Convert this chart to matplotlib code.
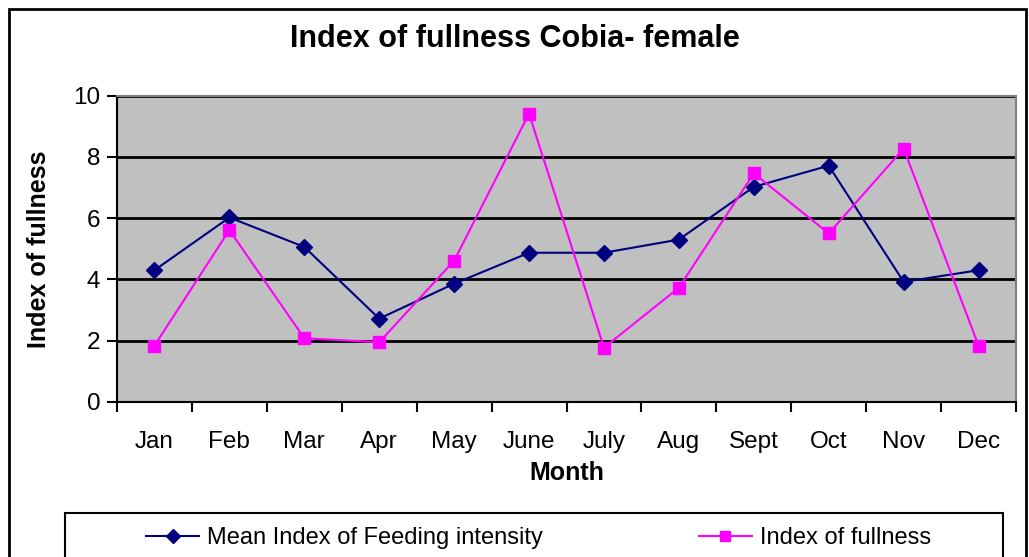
import matplotlib.pyplot as plt
from matplotlib.patches import Rectangle
from matplotlib.lines import Line2D

plt.rcParams['font.family'] = ['Liberation Sans', 'DejaVu Sans']

months = ["Jan", "Feb", "Mar", "Apr", "May", "June", "July", "Aug", "Sept", "Oct", "Nov", "Dec"]
feeding_intensity = [4.30, 6.02, 5.06, 2.72, 3.86, 4.87, 4.87, 5.30, 7.02, 7.71, 3.92, 4.30]
fullness = [1.84, 5.61, 2.08, 1.95, 4.61, 9.41, 1.77, 3.73, 7.46, 5.50, 8.27, 1.84]

fig = plt.figure(figsize=(10.29, 5.57), dpi=100)
ax = fig.add_axes([0.1137, 0.2783, 0.8737, 0.5502])

x = range(len(months))
ax.plot(x, feeding_intensity, color='#000080', marker='D', markersize=8, linewidth=1.5,
        label='Mean Index of Feeding intensity', zorder=3)
ax.plot(x, fullness, color='#FF00FF', marker='s', markersize=9, linewidth=1.5,
        label='Index of fullness', zorder=3)

ax.set_facecolor('#C0C0C0')
ax.set_xlim(-0.5, len(months) - 0.5)
ax.set_ylim(0, 10)
ax.set_yticks([0, 2, 4, 6, 8, 10])
ax.yaxis.grid(True, color='black', linewidth=2)
ax.set_axisbelow(True)

# category ticks sit between months, labels at the centres
ax.set_xticks([i - 0.5 for i in range(len(months) + 1)])
ax.set_xticklabels([])
ax.set_xticks(list(x), minor=True)
ax.set_xticklabels(months, minor=True)
ax.tick_params(axis='x', which='minor', length=0, pad=21, labelsize=17.5)
ax.tick_params(axis='x', which='major', direction='out', length=7, width=1.5)
ax.tick_params(axis='y', direction='out', length=7, width=1.5, labelsize=17.5, pad=5)

for side in ['top', 'right']:
    ax.spines[side].set_color('#808080')
    ax.spines[side].set_linewidth(1.5)
for side in ['left', 'bottom']:
    ax.spines[side].set_color('black')
    ax.spines[side].set_linewidth(1.5)

ax.set_xlabel("Month", fontsize=18, fontweight='bold', labelpad=6)
ax.set_ylabel("Index of fullness", fontsize=18, fontweight='bold', labelpad=16)
fig.text(0.5, 0.93, "Index of fullness Cobia- female", ha='center', va='center',
         fontsize=22, fontweight='bold')

# outer chart border and legend box
fig.patches.append(Rectangle((9 / 1029, -0.1), 1017 / 1029, 1.1 - 9 / 557, transform=fig.transFigure,
                             fill=False, edgecolor='black', linewidth=2))
fig.patches.append(Rectangle((65 / 1029, -0.1), 938 / 1029, 0.1 + 44 / 557, transform=fig.transFigure,
                             fill=False, edgecolor='black', linewidth=1.5))

handles = [Line2D([], [], color='#000080', marker='D', markersize=7, linewidth=1.5),
           Line2D([], [], color='#FF00FF', marker='s', markersize=7, linewidth=1.5)]
fig.legend(handles, ['Mean Index of Feeding intensity', 'Index of fullness'],
           loc='center left', bbox_to_anchor=(146 / 1029, 1 - 538 / 557), ncol=2,
           frameon=False, fontsize=17, handlelength=2.25, handletextpad=0.34,
           columnspacing=6.6, borderaxespad=0, borderpad=0)

fig.savefig("out.png", dpi=100)
